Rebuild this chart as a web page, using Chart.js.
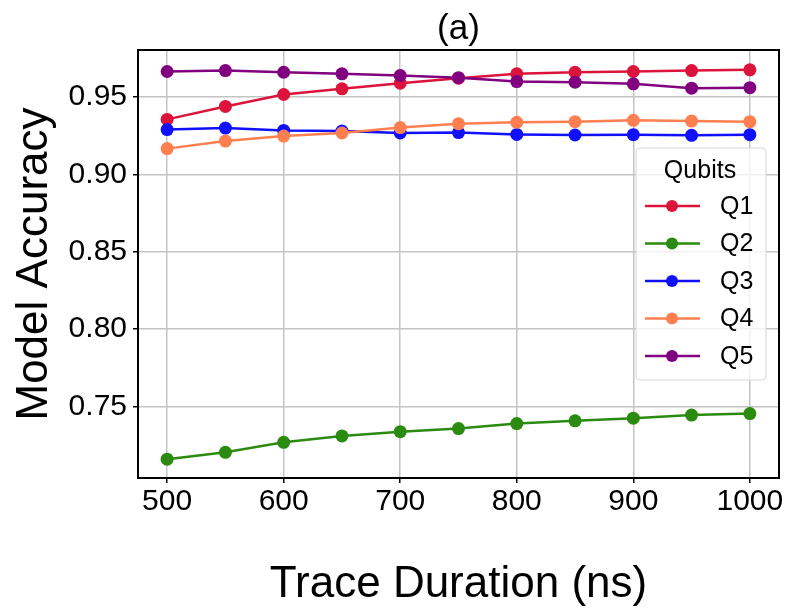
<!DOCTYPE html>
<html>
<head>
<meta charset="utf-8">
<script src="https://cdn.jsdelivr.net/npm/chart.js@4.4.1/dist/chart.umd.min.js"></script>
<style>
  body { margin: 0; background: #fff; }
  canvas { display: block; }
</style>
</head>
<body>
<canvas id="myChart" width="789" height="613"></canvas>
<script>
var durations = [500, 550, 600, 650, 700, 750, 800, 850, 900, 950, 1000];
var qubitNames = ['Q1', 'Q2', 'Q3', 'Q4', 'Q5'];
var q1 = [0.9356, 0.9440, 0.9517, 0.9554, 0.9590, 0.9623, 0.9651, 0.9661, 0.9666, 0.9672, 0.9677];
var q2 = [0.7158, 0.7202, 0.7267, 0.7308, 0.7336, 0.7356, 0.7388, 0.7406, 0.7423, 0.7443, 0.7453];
var q3 = [0.9290, 0.9300, 0.9285, 0.9281, 0.9268, 0.9271, 0.9259, 0.9255, 0.9257, 0.9253, 0.9257];
var q4 = [0.9167, 0.9216, 0.9248, 0.9268, 0.9303, 0.9328, 0.9337, 0.9341, 0.9350, 0.9345, 0.9341];
var q5 = [0.9666, 0.9672, 0.9661, 0.9651, 0.9640, 0.9626, 0.9601, 0.9597, 0.9586, 0.9558, 0.9561];
var colors = ['#dc143c', '#2b8a10', '#1010ff', '#ff7f50', '#800080'];

var FONT = "'Liberation Sans', Arial, sans-serif";

function toPoints(vals) {
  return vals.map(function(v, i) { return { x: durations[i], y: v }; });
}

var datasets = [q1, q2, q3, q4, q5].map(function(vals, i) {
  return {
    label: qubitNames[i],
    data: toPoints(vals),
    borderColor: colors[i],
    backgroundColor: colors[i],
    borderWidth: 2.5,
    pointRadius: 6.5,
    pointBorderWidth: 0,
    pointHoverRadius: 6.5,
    order: 5 - i
  };
});

// black frame around plot area
var framePlugin = {
  id: 'frame',
  afterDraw: function(chart) {
    var a = chart.chartArea, ctx = chart.ctx;
    ctx.save();
    ctx.strokeStyle = '#000';
    ctx.lineWidth = 2;
    ctx.strokeRect(a.left, a.top, a.right - a.left, a.bottom - a.top);
    ctx.restore();
  }
};

// matplotlib style legend inside the plot
var legendPlugin = {
  id: 'innerLegend',
  afterDatasetsDraw: function(chart) {
    var ctx = chart.ctx;
    var x = 636, y = 148, w = 130, h = 232;
    ctx.save();
    ctx.beginPath();
    ctx.roundRect(x, y, w, h, 4);
    ctx.fillStyle = 'rgba(255,255,255,0.8)';
    ctx.fill();
    ctx.strokeStyle = '#d6d6d6';
    ctx.lineWidth = 1;
    ctx.stroke();
    ctx.fillStyle = '#000';
    ctx.font = '25px ' + FONT;
    ctx.textAlign = 'center';
    ctx.textBaseline = 'middle';
    ctx.fillText('Qubits', 700, 171);
    chart.data.datasets.forEach(function(ds, i) {
      var ry = 206 + i * 37.5;
      ctx.strokeStyle = ds.borderColor;
      ctx.lineWidth = 2.5;
      ctx.beginPath();
      ctx.moveTo(645, ry);
      ctx.lineTo(700, ry);
      ctx.stroke();
      ctx.fillStyle = ds.borderColor;
      ctx.beginPath();
      ctx.arc(672, ry, 6, 0, Math.PI * 2);
      ctx.fill();
      ctx.fillStyle = '#000';
      ctx.font = '25px ' + FONT;
      ctx.textAlign = 'left';
      ctx.fillText(ds.label, 720, ry + 1);
    });
    ctx.restore();
  }
};

var ctx = document.getElementById('myChart').getContext('2d');
var chart = new Chart(ctx, {
  type: 'line',
  data: { datasets: datasets },
  plugins: [framePlugin, legendPlugin],
  options: {
    responsive: false,
    animation: false,
    layout: { padding: { left: 0, right: 10, top: 0, bottom: 0 } },
    plugins: {
      legend: { display: false },
      tooltip: { enabled: false },
      title: {
        display: true,
        text: '(a)',
        fullSize: false,
        color: '#000',
        font: { family: FONT, size: 35, weight: 'normal', lineHeight: 1.2 },
        padding: { top: 8, bottom: 0 }
      }
    },
    scales: {
      x: {
        type: 'linear',
        min: 475,
        max: 1025,
        afterFit: function(s) { s.height = 135; },
        border: { display: false },
        grid: { color: '#c4c4c4', lineWidth: 1.5, tickColor: '#000', tickLength: 5, tickWidth: 1.5 },
        ticks: {
          stepSize: 100,
          includeBounds: false,
          color: '#000',
          padding: 1,
          maxRotation: 0,
          font: { family: FONT, size: 30, lineHeight: 1.2 },
          callback: function(v) { return String(v); }
        },
        title: {
          display: true,
          text: 'Trace Duration (ns)',
          color: '#000',
          font: { family: FONT, size: 44, lineHeight: 1.2 },
          padding: { top: 0, bottom: 2 }
        }
      },
      y: {
        min: 0.7036,
        max: 0.9805,
        afterFit: function(s) { s.width = 138; },
        border: { display: false },
        grid: { color: '#c4c4c4', lineWidth: 1.5, tickColor: '#000', tickLength: 5, tickWidth: 1.5 },
        ticks: {
          stepSize: 0.05,
          includeBounds: false,
          color: '#000',
          padding: 6,
          font: { family: FONT, size: 30, lineHeight: 1.2 },
          callback: function(v) { return v.toFixed(2); }
        },
        title: {
          display: true,
          text: 'Model Accuracy',
          color: '#000',
          font: { family: FONT, size: 44, lineHeight: 1.2 },
          padding: { top: 8, bottom: 0 }
        }
      }
    }
  }
});
</script>
</body>
</html>
